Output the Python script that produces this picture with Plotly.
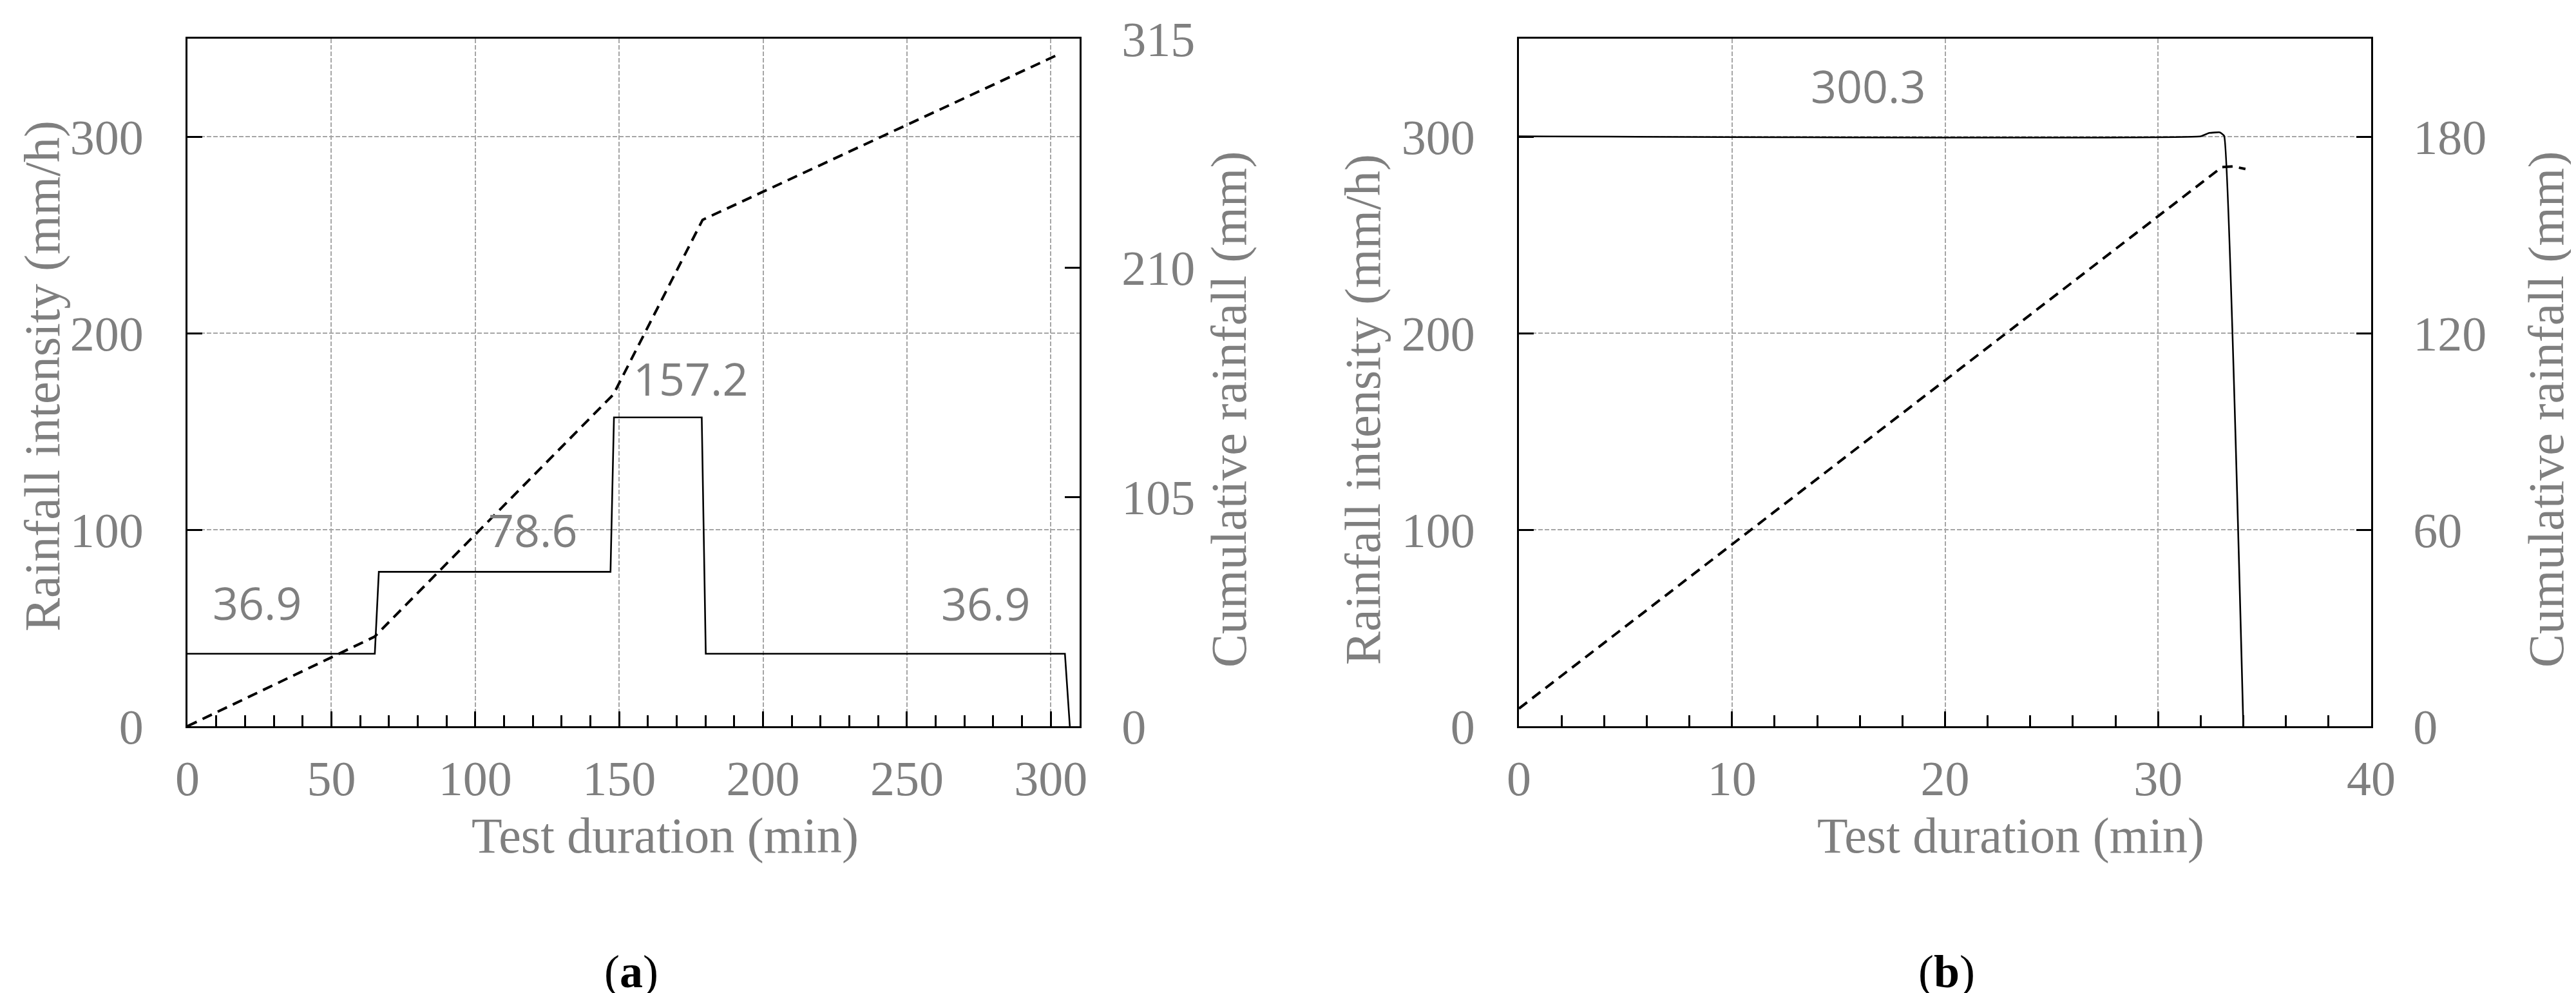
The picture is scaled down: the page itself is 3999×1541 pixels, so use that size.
import plotly.graph_objects as go

# (a) stepped rainfall test
a_time = [0, 65.1, 66.5, 147.0, 148.2, 178.7, 180.1, 304.9, 306.6]
a_intensity = [36.9, 36.9, 78.6, 78.6, 157.2, 157.2, 36.9, 36.9, 0]
a_cum_time = [0, 65, 148, 179, 303]
a_cum_rain = [0, 41, 152, 232, 308]

# (b) constant rainfall test
b_time = [0, 32.0, 32.4, 32.9, 33.1, 34.0]
b_intensity = [300.3, 300.3, 302.0, 302.3, 300.5, 0]
b_cum_time = [0, 33.0, 33.5, 34.1]
b_cum_rain = [5.4, 170.8, 171.0, 170.2]

# value labels: (text, x, y) on the intensity axis
a_labels = [("36.9", 24.1, 63), ("78.6", 120, 100), ("157.2", 175, 177), ("36.9", 277.4, 62.5)]
b_labels = [("300.3", 16.4, 326)]

GREY = "#7F7F7F"
SERIF = "Liberation Serif"
W, H = 3999, 1541

fig = go.Figure()

fig.add_trace(go.Scatter(x=a_time, y=a_intensity, mode="lines",
                         line=dict(color="black", width=2.6), xaxis="x", yaxis="y"))
fig.add_trace(go.Scatter(x=a_cum_time, y=a_cum_rain, mode="lines",
                         line=dict(color="black", width=4, dash="16px,10px"), xaxis="x", yaxis="y2"))
fig.add_trace(go.Scatter(x=b_time, y=b_intensity, mode="lines", line_shape="spline",
                         line=dict(color="black", width=2.6, smoothing=0.3), xaxis="x2", yaxis="y3"))
fig.add_trace(go.Scatter(x=b_cum_time, y=b_cum_rain, mode="lines",
                         line=dict(color="black", width=4, dash="16px,10px"), xaxis="x2", yaxis="y4"))

y_dom = [1 - 1119 / H, 1 - 52 / H]
a_dom = [283 / W, 1668 / W]
b_dom = [2350 / W, 3673 / W]

tickfont = dict(family=SERIF, size=76, color=GREY)
grid = dict(showgrid=True, gridcolor="#A6A6A6", gridwidth=2, griddash="7px,3px")
line = dict(showline=True, linecolor="black", linewidth=3, ticks="inside",
            tickcolor="black", tickwidth=3, ticklen=23, zeroline=False,
            automargin=False, tickfont=tickfont)


def x_axis(dom, rng, dtick, minor_dtick, anchor):
    return dict(domain=dom, range=rng, dtick=dtick, anchor=anchor, mirror=True,
                ticklabelstandoff=13,
                minor=dict(dtick=minor_dtick, ticks="inside", ticklen=17,
                           tickwidth=3, tickcolor="black", showgrid=False),
                **grid, **line)


def y_left(dom, anchor):
    return dict(domain=dom, range=[0, 350], dtick=100, anchor=anchor,
                ticklabelstandoff=50, **grid, **line)


def y_right(rng, dtick, overlay, anchor):
    return dict(range=rng, dtick=dtick, overlaying=overlay, side="right",
                anchor=anchor, showgrid=False, ticklabelstandoff=47, **line)


fig.update_layout(
    width=W, height=H,
    margin=dict(l=0, r=0, t=0, b=0),
    paper_bgcolor="white", plot_bgcolor="white",
    showlegend=False,
    xaxis=x_axis(a_dom, [0, 310], 50, 10, "y"),
    yaxis=y_left(y_dom, "x"),
    yaxis2=y_right([0, 315], 105, "y", "x"),
    xaxis2=x_axis(b_dom, [0, 40], 10, 2, "y3"),
    yaxis3=y_left(y_dom, "x2"),
    yaxis4=y_right([0, 210], 60, "y3", "x2"),
)

ann = []
for text, x, y in a_labels:
    ann.append(dict(text=text, x=x, y=y, xref="x", yref="y", showarrow=False,
                    font=dict(family="Open Sans", size=70, color=GREY)))
for text, x, y in b_labels:
    ann.append(dict(text=text, x=x, y=y, xref="x2", yref="y3", showarrow=False,
                    font=dict(family="Open Sans", size=70, color=GREY)))

title_font = dict(family=SERIF, size=78, color=GREY)
titles = [
    ("Rainfall intensity (mm/h)", 57, 576, -90),
    ("Cumulative rainfall (mm)", 1900, 628, -90),
    ("Test duration (min)", 1024, 1288, 0),
    ("Rainfall intensity (mm/h)", 2108, 628, -90),
    ("Cumulative rainfall (mm)", 3945, 628, -90),
    ("Test duration (min)", 3113, 1288, 0),
]
for text, px, py, ang in titles:
    ann.append(dict(text=text, x=px / W, y=1 - py / H, xref="paper", yref="paper",
                    xanchor="center", yanchor="middle",
                    showarrow=False, textangle=ang, font=title_font))

for text, px in [("(<b>a</b>)", 972), ("(<b>b</b>)", 3014)]:
    ann.append(dict(text=text, x=px / W, y=1 - 1500 / H, xref="paper", yref="paper",
                    xanchor="center", yanchor="middle",
                    showarrow=False, font=dict(family=SERIF, size=72, color="black")))

fig.update_layout(annotations=ann)

fig.write_html("out.html")
